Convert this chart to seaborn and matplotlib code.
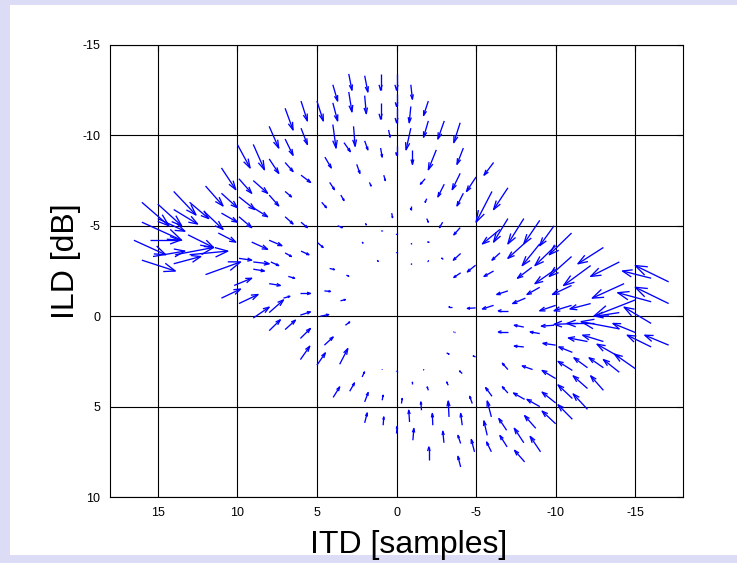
import matplotlib
matplotlib.use("Agg")
import matplotlib.pyplot as plt
from matplotlib.collections import LineCollection
from matplotlib.patches import Rectangle
import numpy as np
import seaborn as sns

# arrow tails (ITD in samples, ILD in dB)
itd_tail = [
    6.0, 7.0, 8.0, 7.0, 6.0, 10.0, 9.0, 8.0, 7.0, 6.0, 11.0, 9.9, 9.0, 12.0,
    3.0, 2.0, 1.0, 0.0, -0.9, 4.0, 3.0, 2.0, 1.0, 0.0, 0.0, -2.0, -0.9, -2.0,
    -3.0, -4.0, 5.0, 4.0, 4.0, 2.7, 3.3, 2.0, 1.0, 0.5, 0.0, -0.9, -1.0, -2.5,
    -4.2, -6.1, -5.0, -4.0, -3.0, -1.8, 4.5, 2.5, 0.8, 1.7, 4.2, -6.0, -7.0,
    3.5, 4.7, -0.9, -1.9, 0.3, -1.9, -2.9, -4.0, -4.2, 3.7, 1.95, 0.94, 0.0,
    2.16, -0.94, -1.93, 4.95, 0.0, 1.21, -0.94, -1.93, -2.94, -4.03, -4.97,
    4.2, 3.15, -4.03, 4.53, 6.04, 3.52, -3.5, -4.97, 4.78, 3.21, 6.04,
    11.0, 9.9, 9.0, 8.0, 7.0, 7.0, 6.0, 14.0, 13.0, 12.1, 11.0, 9.9, 14.0,
    15.0, 16.0, 15.0, 16.0, 11.2, 13.1, 9.1, 8.0, 7.0, 6.0, 9.9, 9.0, 7.9,
    15.5, 16.5, 15.3, 13.9, 13.0, 16.0, 14.0, 12.0, 10.2, 11.0, 9.9, 9.0, 8.0,
    9.0, 8.0, 6.8, 7.1,
    -7.0, -8.0, -9.0, -9.9, -6.5, -11.0, -8.0, -6.5, -9.0, -10.0, -13.0, -11.0,
    -14.0, -12.2, -8.5, -10.0, -6.1, -17.1, -16.0, -14.3, -11.0, -9.0, -7.0,
    -17.1, -16.0, -15.0, -8.1, -10.0, -11.0, -12.2, -6.1, -7.0, -16.0, -14.0,
    -8.0, -9.9, -11.4, -12.4, -14.0, -15.0, -17.1, -16.0, -7.0, -9.0, -11.05,
    -8.0, -12.0, -13.0, -14.0, -10.0,
    -12.0, -13.0, -14.0, -15.0, -11.05, -10.0, -12.0, -13.0, -11.05, -10.0,
    -12.0, -11.05, -10.0,
    -3.65, -3.15, -4.97, -7.0, -8.55, -4.13, -1.72, 0.0, 0.9, -1.0, -2.0,
    -3.25, -7.0, -8.05, -9.0, -6.0, -4.76, -3.3, -1.57, -0.31, 0.9, -8.75,
    -8.0, -9.05, -6.95, -6.92, -5.96, -5.96, -8.05, -5.7, -4.9, -4.03, -4.13,
    -2.98, -2.28, -0.82, -1.03, -2.03, -4.03, 0.0, 0.84,
    8.0, 7.0, 6.04, 6.04, 4.53, 5.0, 3.57, 2.16, 2.94, 3.98, 2.0, 2.0,
]
ild_tail = [
    -11.9, -11.5, -10.5, -9.8, -10.4, -9.5, -9.5, -8.7, -8.5, -7.8, -8.2, -7.6, -7.5, -7.2,
    -13.4, -13.3, -13.4, -13.4, -12.8, -12.8, -12.4, -12.2, -11.8, -12.3, -11.5, -11.9, -11.6, -10.8,
    -10.8, -10.7, -11.9, -11.8, -10.6, -10.5, -9.6, -9.7, -9.3, -10.3, -9.4, -10.4, -9.2, -9.2,
    -9.3, -8.5, -7.7, -7.9, -7.3, -7.6, -8.8, -8.4, -7.8, -7.4, -7.4, -6.9, -7.1,
    -6.7, -6.3, -6.1, -6.5, -5.7, -5.4, -5.2, -4.9, -6.8, -5.0, -5.15, -4.76, -4.59,
    -4.11, -4.06, -4.11, -4.06, -3.56, -3.1, -2.92, -3.06, -3.14, -3.47, -2.82,
    -2.64, -2.27, -2.4, -1.4, -1.26, -0.85, -0.51, -0.46, 0.0, 0.5, -0.06,
    -6.8, -6.6, -6.0, -6.7, -6.9, -5.5, -5.2, -6.9, -6.3, -5.8, -5.7, -5.5, -5.9,
    -6.2, -6.3, -5.4, -5.2, -4.6, -4.5, -4.1, -4.2, -3.5, -3.6, -3.2, -3.0, -3.0,
    -4.2, -4.2, -3.3, -3.4, -3.4, -3.1, -2.9, -2.3, -1.7, -1.0, -0.7, 0.1, -0.2,
    -2.6, -1.8, -2.2, -1.0,
    -5.4, -5.4, -5.3, -5.0, -4.8, -4.6, -4.0, -3.5, -4.0, -3.9, -3.8, -3.3,
    -3.0, -2.8, -2.7, -2.6, -2.5, -1.9, -2.1, -1.8, -1.7, -1.6, -1.4,
    -0.7, -0.8, -0.9, -1.0, -0.6, -0.6, -0.7, -0.6, -0.3, 0.4, -0.2,
    0.6, 0.5, 0.4, 0.4, 0.7, 0.9, 1.6, 1.7, 0.87, 0.96, 2.0,
    1.7, 1.4, 1.4, 2.25, 1.6,
    2.85, 2.85, 3.1, 2.9, 3.0, 3.45, 4.0, 4.1, 4.55, 4.8,
    5.15, 5.7, 5.95,
    0.87, 2.03, 2.25, 2.95, 2.95, 3.17, 2.99, 3.08, 2.99, 3.76, 4.1,
    3.82, 4.25, 4.6, 5.0, 4.43, 4.83, 5.57, 5.2, 4.83, 4.65, 6.2,
    7.0, 7.5, 7.23, 6.31, 5.57, 7.5, 8.06, 6.59, 7.5, 7.04, 6.03,
    7.0, 6.03, 5.85, 6.86, 7.93, 8.34, 6.49, 6.03,
    0.8, 0.74, 1.23, 2.4, 1.6, 2.71, 2.66, 3.36, 4.15, 4.49, 4.74, 5.9,
]

# arrow heads (ITD in samples, ILD in dB)
itd_head = [
    5.6, 6.5, 7.4, 6.5, 5.6, 9.2, 8.3, 7.4, 6.5, 5.4, 10.1, 9.1, 8.1, 10.9,
    2.8, 1.8, 1.0, 0.0, -1.0, 3.7, 2.8, 1.9, 1.0, 0.0, 0.0, -1.7, -0.8, -1.7,
    -2.6, -3.6, 4.6, 3.7, 3.8, 2.6, 2.9, 1.8, 0.9, 0.4, 0.0, -0.6, -1.0, -2.0,
    -3.8, -5.5, -4.4, -3.5, -2.6, -1.5, 4.1, 2.3, 0.7, 1.6, 3.9, -5.0, -6.1,
    3.3, 4.4, -0.9, -1.8, 0.25, -2.0, -2.7, -3.6, -3.8, 3.4, 1.9, 0.94, 0.0,
    2.11, -0.94, -2.04, 4.61, 0.0, 1.15, -0.94, -2.01, -2.84, -3.57, -4.45,
    3.9, 3.0, -3.6, 4.15, 5.41, 3.21, -3.29, -4.45, 4.26, 2.94, 5.41,
    10.0, 8.9, 8.1, 7.4, 6.6, 6.5, 5.6, 12.6, 11.8, 10.9, 10.0, 9.1, 12.5,
    13.5, 14.3, 13.3, 13.5, 10.1, 11.5, 8.1, 7.2, 6.6, 5.5, 9.1, 8.0, 7.4,
    13.6, 14.5, 13.3, 11.5, 10.6, 13.9, 12.3, 9.8, 9.1, 9.8, 8.7, 8.0, 7.1,
    8.3, 7.3, 6.4, 6.7,
    -6.1, -7.0, -8.0, -9.0, -5.4, -9.6, -7.0, -6.0, -7.9, -8.7, -11.4, -9.6,
    -12.2, -10.5, -7.6, -8.7, -5.5, -15.0, -14.2, -12.3, -9.8, -8.2, -6.3,
    -15.0, -13.9, -12.4, -7.3, -9.0, -9.9, -10.9, -5.4, -6.4, -14.3, -12.5,
    -7.4, -9.1, -9.9, -10.7, -11.6, -13.6, -15.6, -14.5, -6.4, -8.4, -10.2,
    -7.4, -10.8, -11.7, -12.6, -9.2,
    -11.15, -12.1, -13.0, -13.7, -10.15, -9.15, -11.1, -12.2, -10.15, -9.15,
    -11.1, -10.15, -9.15,
    -3.6, -3.3, -4.82, -6.65, -7.9, -3.96, -1.7, 0.0, 0.9, -1.0, -1.93,
    -3.15, -6.65, -7.35, -8.2, -5.6, -4.6, -3.25, -1.53, -0.36, 0.84, -8.05,
    -7.4, -8.4, -6.5, -6.43, -5.7, -5.66, -7.42, -5.49, -4.7, -3.86, -4.03,
    -2.91, -2.25, -0.77, -1.09, -2.03, -3.86, -0.04, 0.8,
    7.3, 6.35, 5.41, 5.45, 3.98, 4.47, 3.06, 2.01, 2.64, 3.57, 1.78, 1.84,
]
ild_head = [
    -10.8, -10.3, -9.3, -8.9, -9.5, -8.2, -8.1, -7.9, -8.0, -7.4, -7.0, -6.8, -6.8, -6.1,
    -12.5, -12.4, -12.5, -12.5, -12.0, -11.9, -11.3, -11.2, -10.9, -11.6, -10.7, -11.1, -10.7, -9.9,
    -9.8, -9.6, -10.8, -10.8, -9.3, -9.4, -9.1, -9.2, -8.8, -9.9, -8.9, -9.2, -8.4, -8.1,
    -8.4, -7.8, -6.9, -7.0, -6.6, -7.3, -8.2, -7.9, -7.5, -7.2, -7.0, -5.2, -5.9,
    -6.4, -6.0, -5.9, -6.3, -5.45, -5.2, -4.9, -4.5, -6.1, -4.9, -5.05, -4.72, -4.53,
    -4.04, -4.02, -4.09, -3.8, -3.52, -3.03, -2.88, -3.06, -3.21, -3.1, -2.45,
    -2.58, -2.21, -2.14, -1.37, -1.26, -0.92, -0.51, -0.43, -0.09, 0.32, -0.24,
    -6.0, -5.9, -5.5, -6.1, -6.6, -5.1, -4.9, -5.6, -5.4, -4.8, -5.2, -4.9, -5.1,
    -5.0, -5.0, -4.7, -4.2, -4.1, -3.8, -3.7, -3.9, -3.3, -3.4, -3.1, -2.9, -2.8,
    -4.2, -3.4, -3.6, -3.8, -3.6, -2.5, -3.3, -3.0, -2.1, -1.5, -1.2, -0.5, -0.9,
    -2.5, -1.7, -2.1, -1.1,
    -4.1, -4.0, -4.0, -3.9, -4.0, -3.4, -3.2, -3.1, -2.8, -2.8, -2.9, -2.2,
    -2.2, -1.7, -2.1, -1.8, -2.2, -2.8, -2.5, -1.0, -1.2, -1.2, -1.2,
    -1.6, -1.3, 0.0, -0.7, -0.3, -0.3, -0.4, -0.4, -0.3, -0.5, 0.0,
    0.5, 0.55, 0.45, 0.4, 0.3, 0.4, 1.05, 1.05, 0.87, 0.87, 1.7,
    1.65, 1.2, 1.05, 1.55, 1.5,
    2.3, 2.3, 2.4, 2.1, 2.5, 3.0, 3.3, 3.3, 3.8, 4.2,
    4.3, 4.9, 5.25,
    0.87, 2.1, 2.2, 2.6, 2.75, 3.03, 2.96, 3.05, 2.96, 3.65, 3.91,
    3.64, 3.9, 4.25, 4.6, 3.95, 4.43, 4.69, 4.74, 4.55, 4.37, 5.5,
    6.2, 6.65, 6.6, 5.66, 4.69, 6.96, 7.42, 5.79, 6.82, 6.59, 5.38,
    6.36, 5.38, 5.2, 6.21, 7.23, 7.75, 6.09, 5.57,
    0.2, 0.22, 0.68, 1.66, 1.15, 2.03, 1.79, 3.08, 3.69, 3.91, 4.22, 5.35,
]

itd_ticks = [15, 10, 5, 0, -5, -10, -15]
ild_ticks = [-15, -10, -5, 0, 5, 10]

sns.set_theme(style="white")
plt.rcParams["font.family"] = ["Liberation Sans", "DejaVu Sans"]
plt.rcParams["axes.unicode_minus"] = False

fig = plt.figure(figsize=(7.37, 5.63), dpi=100, facecolor="#dcdcf6")
fig.patches.append(Rectangle((10 / 737, 8 / 563), 1, 550 / 563, transform=fig.transFigure,
                             facecolor="white", edgecolor="none", zorder=-10))
ax = fig.add_axes([0.1493, 0.1172, 0.7774, 0.8029])
ax.set_facecolor("white")

# MATLAB style quiver: shaft plus open head (alpha = beta = 0.33)
x0, y0 = np.array(itd_tail), np.array(ild_tail)
x1, y1 = np.array(itd_head), np.array(ild_head)
u, v = x1 - x0, y1 - y0
a, b = 0.33, 0.33
segs = []
for i in range(len(x0)):
    segs.append([(x0[i], y0[i]), (x1[i], y1[i])])
    segs.append([(x1[i] - a * (u[i] + b * v[i]), y1[i] - a * (v[i] - b * u[i])),
                 (x1[i], y1[i]),
                 (x1[i] - a * (u[i] - b * v[i]), y1[i] - a * (v[i] + b * u[i]))])
ax.add_collection(LineCollection(segs, colors="#0000ff", linewidths=0.95, zorder=3))

ax.set_xlim(18, -18)
ax.set_ylim(10, -15)
ax.set_xticks(itd_ticks)
ax.set_yticks(ild_ticks)
ax.set_xticklabels([str(t) for t in itd_ticks])
ax.set_yticklabels([str(t) for t in ild_ticks])
ax.grid(True, color="black", linewidth=0.8, linestyle="-")
ax.set_axisbelow(True)
ax.tick_params(direction="in", length=4, width=0.8, labelsize=9, colors="black",
               top=True, right=True, pad=7)
for s in ax.spines.values():
    s.set_color("black")
    s.set_linewidth(0.8)

ax.set_xlabel("ITD [samples]", fontsize=23, color="black")
ax.set_ylabel("ILD [dB]", fontsize=23, color="black")
ax.xaxis.set_label_coords(0.522, -0.074)
ax.yaxis.set_label_coords(-0.05, 0.522)

fig.savefig("out.png", dpi=100, facecolor=fig.get_facecolor())
